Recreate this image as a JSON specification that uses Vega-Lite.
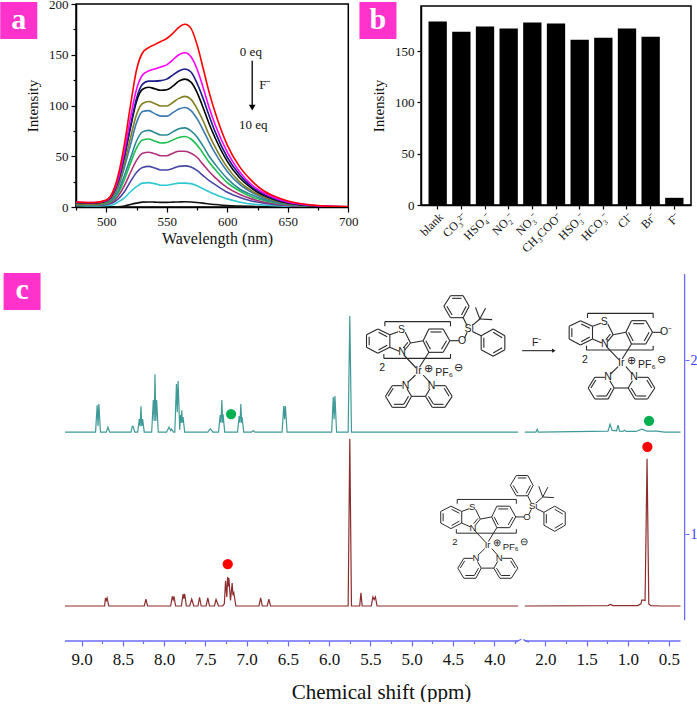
{"$schema":"https://vega.github.io/schema/vega-lite/v6.json","padding":{"left":-1,"top":-3,"right":0,"bottom":0},"background":"white","bounds":"flush","spacing":270,"resolve":{"scale":{"color":"independent"}},
"config":{"font":"Liberation Serif","axis":{"labelFont":"Liberation Serif","titleFont":"Liberation Serif","labelColor":"#111","titleColor":"#111","titleFontWeight":"normal","grid":false,"domainColor":"#000","tickColor":"#000"}},
"datasets":{
"curves":[
{"w":475,"s0":5,"s1":5,"s2":4.5,"s3":4.5,"s4":3,"s5":3,"s6":2.5,"s7":2.5,"s8":2,"s9":2,"s10":1.5,"s11":0},
{"w":490,"s0":4.5,"s1":4.5,"s2":4,"s3":4,"s4":2.8,"s5":2.8,"s6":2.3,"s7":2.2,"s8":1.8,"s9":1.6,"s10":1,"s11":0},
{"w":500,"s0":7,"s1":6.5,"s2":6,"s3":6,"s4":5,"s5":5,"s6":4,"s7":3.5,"s8":3,"s9":2.5,"s10":1.5,"s11":0},
{"w":505,"s0":14,"s1":13,"s2":12,"s3":12,"s4":10,"s5":9,"s6":7.5,"s7":6.5,"s8":5,"s9":4,"s10":2,"s11":0},
{"w":510,"s0":32,"s1":28,"s2":26,"s3":26,"s4":22,"s5":20,"s6":16,"s7":14,"s8":11,"s9":8,"s10":5,"s11":0.2},
{"w":515,"s0":62,"s1":55,"s2":50,"s3":50,"s4":43,"s5":39,"s6":31,"s7":27,"s8":21,"s9":15,"s10":9,"s11":1},
{"w":520,"s0":100,"s1":88,"s2":80,"s3":78,"s4":68,"s5":61,"s6":48,"s7":43,"s8":34,"s9":25,"s10":15,"s11":2.5},
{"w":525,"s0":135,"s1":116,"s2":107,"s3":104,"s4":91,"s5":83,"s6":65,"s7":58,"s8":46,"s9":34,"s10":20,"s11":3.8},
{"w":530,"s0":152,"s1":130,"s2":121,"s3":116,"s4":102,"s5":94,"s6":74,"s7":66,"s8":53,"s9":39,"s10":23.5,"s11":4.8},
{"w":535,"s0":157,"s1":134,"s2":124,"s3":118,"s4":104,"s5":95,"s6":75.5,"s7":67,"s8":54,"s9":40,"s10":24,"s11":5},
{"w":540,"s0":160,"s1":136,"s2":124,"s3":116.5,"s4":102,"s5":92,"s6":73.5,"s7":65,"s8":52.5,"s9":38.5,"s10":23,"s11":4.8},
{"w":545,"s0":163,"s1":138,"s2":124.5,"s3":115,"s4":99.5,"s5":89.5,"s6":71,"s7":63,"s8":50.5,"s9":36.5,"s10":21.5,"s11":4.6},
{"w":550,"s0":166,"s1":140,"s2":126,"s3":115.5,"s4":99.5,"s5":89.5,"s6":71,"s7":63.5,"s8":50.5,"s9":36.5,"s10":21.5,"s11":4.6},
{"w":555,"s0":171,"s1":145,"s2":130,"s3":119,"s4":103,"s5":93,"s6":74,"s7":66,"s8":53,"s9":38,"s10":22.5,"s11":4.8},
{"w":560,"s0":177,"s1":150,"s2":134,"s3":124,"s4":107,"s5":96.5,"s6":77,"s7":68.5,"s8":55,"s9":40,"s10":23.5,"s11":5},
{"w":565,"s0":180,"s1":152,"s2":136,"s3":126,"s4":109,"s5":98,"s6":78,"s7":69.5,"s8":55,"s9":40.5,"s10":23.5,"s11":5.2},
{"w":570,"s0":176,"s1":148,"s2":133,"s3":123,"s4":106,"s5":95,"s6":75,"s7":67,"s8":53,"s9":39.5,"s10":23,"s11":5},
{"w":575,"s0":160,"s1":136,"s2":122,"s3":113,"s4":97,"s5":87,"s6":69,"s7":61,"s8":49,"s9":36,"s10":21,"s11":4.5},
{"w":580,"s0":137,"s1":118,"s2":107,"s3":98,"s4":85,"s5":76,"s6":60,"s7":53,"s8":42,"s9":31,"s10":18,"s11":3.8},
{"w":585,"s0":113,"s1":98,"s2":90,"s3":82,"s4":71,"s5":64,"s6":50,"s7":44,"s8":35,"s9":26,"s10":15,"s11":3},
{"w":590,"s0":93,"s1":81,"s2":74,"s3":68,"s4":59,"s5":53,"s6":42,"s7":37,"s8":29,"s9":22,"s10":12.5,"s11":2.4},
{"w":600,"s0":61,"s1":54,"s2":49,"s3":45,"s4":39,"s5":35,"s6":28,"s7":24,"s8":19,"s9":14.5,"s10":8,"s11":1.4},
{"w":610,"s0":40,"s1":35,"s2":32,"s3":29,"s4":25,"s5":22.5,"s6":18,"s7":16,"s8":12.5,"s9":9.5,"s10":5,"s11":0.9},
{"w":620,"s0":26,"s1":22,"s2":20,"s3":18.5,"s4":16,"s5":14.5,"s6":12,"s7":10,"s8":8,"s9":6,"s10":3,"s11":0.6},
{"w":630,"s0":16,"s1":14,"s2":12.5,"s3":11.5,"s4":10,"s5":9,"s6":7.5,"s7":6.5,"s8":5,"s9":3.8,"s10":2,"s11":0.4},
{"w":640,"s0":10,"s1":8.5,"s2":7.5,"s3":7,"s4":6,"s5":5.5,"s6":4.5,"s7":4,"s8":3,"s9":2.3,"s10":1.2,"s11":0.2},
{"w":650,"s0":6,"s1":5,"s2":4.5,"s3":4,"s4":3.5,"s5":3.2,"s6":2.7,"s7":2.4,"s8":1.8,"s9":1.4,"s10":0.7,"s11":0.1},
{"w":660,"s0":3.5,"s1":3,"s2":2.5,"s3":2.3,"s4":2,"s5":1.8,"s6":1.5,"s7":1.3,"s8":1,"s9":0.8,"s10":0.4,"s11":0},
{"w":680,"s0":1,"s1":0.9,"s2":0.8,"s3":0.7,"s4":0.6,"s5":0.6,"s6":0.5,"s7":0.4,"s8":0.3,"s9":0.3,"s10":0.1,"s11":0},
{"w":700,"s0":0.4,"s1":0.3,"s2":0.3,"s3":0.3,"s4":0.2,"s5":0.2,"s6":0.2,"s7":0.1,"s8":0.1,"s9":0.1,"s10":0,"s11":0}],
"bars":[{"ion":"blank","i":179},{"ion":"CO₃²⁻","i":169},{"ion":"HSO₄⁻","i":174},{"ion":"NO₂⁻","i":172},{"ion":"NO₃⁻","i":178},{"ion":"CH₃COO⁻","i":177},{"ion":"HSO₃⁻","i":161},{"ion":"HCO₃⁻","i":163},{"ion":"Cl⁻","i":172},{"ion":"Br⁻","i":164},{"ion":"F⁻","i":7}],
"nmr":[
{"p":9.2,"v":1.586,"sp":"t","seg":1},{"p":8.83,"v":1.586,"sp":"t","seg":1},{"p":8.81,"v":1.741,"sp":"t","seg":1},{"p":8.8,"v":1.62,"sp":"t","seg":1},{"p":8.79,"v":1.747,"sp":"t","seg":1},{"p":8.77,"v":1.586,"sp":"t","seg":1},
{"p":8.7,"v":1.586,"sp":"t","seg":1},{"p":8.68,"v":1.615,"sp":"t","seg":1},{"p":8.66,"v":1.586,"sp":"t","seg":1},
{"p":8.4,"v":1.586,"sp":"t","seg":1},{"p":8.385,"v":1.62,"sp":"t","seg":1},{"p":8.375,"v":1.62,"sp":"t","seg":1},{"p":8.355,"v":1.586,"sp":"t","seg":1},
{"p":8.32,"v":1.586,"sp":"t","seg":1},{"p":8.3,"v":1.661,"sp":"t","seg":1},{"p":8.29,"v":1.62,"sp":"t","seg":1},{"p":8.28,"v":1.735,"sp":"t","seg":1},{"p":8.27,"v":1.62,"sp":"t","seg":1},{"p":8.26,"v":1.661,"sp":"t","seg":1},{"p":8.24,"v":1.586,"sp":"t","seg":1},
{"p":8.15,"v":1.586,"sp":"t","seg":1},{"p":8.13,"v":1.77,"sp":"t","seg":1},{"p":8.12,"v":1.65,"sp":"t","seg":1},{"p":8.11,"v":1.919,"sp":"t","seg":1},{"p":8.1,"v":1.65,"sp":"t","seg":1},{"p":8.09,"v":1.77,"sp":"t","seg":1},{"p":8.07,"v":1.586,"sp":"t","seg":1},
{"p":7.97,"v":1.586,"sp":"t","seg":1},{"p":7.94,"v":1.615,"sp":"t","seg":1},{"p":7.92,"v":1.595,"sp":"t","seg":1},{"p":7.91,"v":1.603,"sp":"t","seg":1},{"p":7.885,"v":1.586,"sp":"t","seg":1},
{"p":7.87,"v":1.586,"sp":"t","seg":1},{"p":7.85,"v":1.862,"sp":"t","seg":1},{"p":7.84,"v":1.7,"sp":"t","seg":1},{"p":7.83,"v":1.879,"sp":"t","seg":1},{"p":7.81,"v":1.6,"sp":"t","seg":1},{"p":7.8,"v":1.684,"sp":"t","seg":1},{"p":7.795,"v":1.64,"sp":"t","seg":1},{"p":7.785,"v":1.712,"sp":"t","seg":1},{"p":7.78,"v":1.64,"sp":"t","seg":1},{"p":7.77,"v":1.672,"sp":"t","seg":1},{"p":7.75,"v":1.586,"sp":"t","seg":1},
{"p":7.47,"v":1.586,"sp":"t","seg":1},{"p":7.44,"v":1.606,"sp":"t","seg":1},{"p":7.41,"v":1.586,"sp":"t","seg":1},
{"p":7.34,"v":1.586,"sp":"t","seg":1},{"p":7.32,"v":1.684,"sp":"t","seg":1},{"p":7.31,"v":1.64,"sp":"t","seg":1},{"p":7.3,"v":1.77,"sp":"t","seg":1},{"p":7.29,"v":1.64,"sp":"t","seg":1},{"p":7.285,"v":1.689,"sp":"t","seg":1},{"p":7.265,"v":1.586,"sp":"t","seg":1},
{"p":7.11,"v":1.586,"sp":"t","seg":1},{"p":7.09,"v":1.678,"sp":"t","seg":1},{"p":7.08,"v":1.64,"sp":"t","seg":1},{"p":7.07,"v":1.747,"sp":"t","seg":1},{"p":7.06,"v":1.64,"sp":"t","seg":1},{"p":7.055,"v":1.672,"sp":"t","seg":1},{"p":7.035,"v":1.586,"sp":"t","seg":1},
{"p":6.94,"v":1.586,"sp":"t","seg":1},{"p":6.92,"v":1.595,"sp":"t","seg":1},{"p":6.9,"v":1.586,"sp":"t","seg":1},
{"p":6.57,"v":1.586,"sp":"t","seg":1},{"p":6.55,"v":1.736,"sp":"t","seg":1},{"p":6.54,"v":1.66,"sp":"t","seg":1},{"p":6.53,"v":1.736,"sp":"t","seg":1},{"p":6.51,"v":1.586,"sp":"t","seg":1},
{"p":5.97,"v":1.586,"sp":"t","seg":1},{"p":5.95,"v":1.787,"sp":"t","seg":1},{"p":5.94,"v":1.66,"sp":"t","seg":1},{"p":5.93,"v":1.793,"sp":"t","seg":1},{"p":5.91,"v":1.586,"sp":"t","seg":1},
{"p":5.77,"v":1.586,"sp":"t","seg":1},{"p":5.75,"v":2.253,"sp":"t","seg":1},{"p":5.73,"v":1.586,"sp":"t","seg":1},{"p":3.71,"v":1.586,"sp":"t","seg":1},
{"p":2.25,"v":1.586,"sp":"t","seg":2},{"p":2.115,"v":1.586,"sp":"t","seg":2},{"p":2.1,"v":1.603,"sp":"t","seg":2},{"p":2.085,"v":1.586,"sp":"t","seg":2},{"p":1.24,"v":1.592,"sp":"t","seg":2},{"p":1.215,"v":1.632,"sp":"t","seg":2},{"p":1.19,"v":1.596,"sp":"t","seg":2},{"p":1.135,"v":1.594,"sp":"t","seg":2},{"p":1.118,"v":1.626,"sp":"t","seg":2},{"p":1.1,"v":1.592,"sp":"t","seg":2},{"p":1.06,"v":1.59,"sp":"t","seg":2},{"p":1.04,"v":1.597,"sp":"t","seg":2},{"p":1.02,"v":1.59,"sp":"t","seg":2},{"p":0.9,"v":1.59,"sp":"t","seg":2},{"p":0.83,"v":1.603,"sp":"t","seg":2},{"p":0.77,"v":1.592,"sp":"t","seg":2},{"p":0.65,"v":1.592,"sp":"t","seg":2},{"p":0.55,"v":1.586,"sp":"t","seg":2},{"p":0.36,"v":1.586,"sp":"t","seg":2},
{"p":9.2,"v":0.588,"sp":"r","seg":1},{"p":8.72,"v":0.588,"sp":"r","seg":1},{"p":8.71,"v":0.634,"sp":"r","seg":1},{"p":8.7,"v":0.62,"sp":"r","seg":1},{"p":8.69,"v":0.634,"sp":"r","seg":1},{"p":8.67,"v":0.588,"sp":"r","seg":1},
{"p":8.24,"v":0.588,"sp":"r","seg":1},{"p":8.22,"v":0.628,"sp":"r","seg":1},{"p":8.2,"v":0.588,"sp":"r","seg":1},
{"p":7.92,"v":0.588,"sp":"r","seg":1},{"p":7.9,"v":0.643,"sp":"r","seg":1},{"p":7.89,"v":0.625,"sp":"r","seg":1},{"p":7.88,"v":0.643,"sp":"r","seg":1},{"p":7.86,"v":0.588,"sp":"r","seg":1},
{"p":7.79,"v":0.588,"sp":"r","seg":1},{"p":7.77,"v":0.657,"sp":"r","seg":1},{"p":7.76,"v":0.63,"sp":"r","seg":1},{"p":7.75,"v":0.657,"sp":"r","seg":1},{"p":7.73,"v":0.588,"sp":"r","seg":1},
{"p":7.69,"v":0.588,"sp":"r","seg":1},{"p":7.665,"v":0.628,"sp":"r","seg":1},{"p":7.64,"v":0.588,"sp":"r","seg":1},
{"p":7.59,"v":0.588,"sp":"r","seg":1},{"p":7.57,"v":0.637,"sp":"r","seg":1},{"p":7.55,"v":0.588,"sp":"r","seg":1},
{"p":7.49,"v":0.588,"sp":"r","seg":1},{"p":7.47,"v":0.634,"sp":"r","seg":1},{"p":7.45,"v":0.588,"sp":"r","seg":1},
{"p":7.39,"v":0.588,"sp":"r","seg":1},{"p":7.37,"v":0.625,"sp":"r","seg":1},{"p":7.34,"v":0.588,"sp":"r","seg":1},
{"p":7.29,"v":0.588,"sp":"r","seg":1},{"p":7.27,"v":0.6,"sp":"r","seg":1},{"p":7.255,"v":0.732,"sp":"r","seg":1},{"p":7.24,"v":0.64,"sp":"r","seg":1},{"p":7.23,"v":0.755,"sp":"r","seg":1},{"p":7.222,"v":0.7,"sp":"r","seg":1},{"p":7.215,"v":0.749,"sp":"r","seg":1},{"p":7.195,"v":0.62,"sp":"r","seg":1},{"p":7.175,"v":0.72,"sp":"r","seg":1},{"p":7.165,"v":0.65,"sp":"r","seg":1},{"p":7.155,"v":0.663,"sp":"r","seg":1},{"p":7.13,"v":0.588,"sp":"r","seg":1},
{"p":6.85,"v":0.588,"sp":"r","seg":1},{"p":6.83,"v":0.634,"sp":"r","seg":1},{"p":6.81,"v":0.588,"sp":"r","seg":1},
{"p":6.75,"v":0.588,"sp":"r","seg":1},{"p":6.73,"v":0.628,"sp":"r","seg":1},{"p":6.71,"v":0.588,"sp":"r","seg":1},
{"p":5.77,"v":0.588,"sp":"r","seg":1},{"p":5.75,"v":1.548,"sp":"r","seg":1},{"p":5.73,"v":0.588,"sp":"r","seg":1},
{"p":5.63,"v":0.588,"sp":"r","seg":1},{"p":5.615,"v":0.663,"sp":"r","seg":1},{"p":5.6,"v":0.588,"sp":"r","seg":1},
{"p":5.49,"v":0.588,"sp":"r","seg":1},{"p":5.47,"v":0.64,"sp":"r","seg":1},{"p":5.455,"v":0.625,"sp":"r","seg":1},{"p":5.44,"v":0.64,"sp":"r","seg":1},{"p":5.42,"v":0.588,"sp":"r","seg":1},{"p":3.71,"v":0.588,"sp":"r","seg":1},
{"p":2.25,"v":0.588,"sp":"r","seg":2},{"p":1.24,"v":0.59,"sp":"r","seg":2},{"p":1.21,"v":0.597,"sp":"r","seg":2},{"p":1.18,"v":0.59,"sp":"r","seg":2},{"p":0.88,"v":0.59,"sp":"r","seg":2},{"p":0.84,"v":0.6,"sp":"r","seg":2},{"p":0.83,"v":0.622,"sp":"r","seg":2},{"p":0.81,"v":0.622,"sp":"r","seg":2},{"p":0.79,"v":0.62,"sp":"r","seg":2},{"p":0.766,"v":1.433,"sp":"r","seg":2},{"p":0.745,"v":0.6,"sp":"r","seg":2},{"p":0.72,"v":0.59,"sp":"r","seg":2},{"p":0.6,"v":0.588,"sp":"r","seg":2},{"p":0.36,"v":0.588,"sp":"r","seg":2}],
"bonds":[
{"part":"core","x1":82,"y1":180,"x2":118,"y2":197},{"part":"core","x1":118,"y1":197,"x2":118,"y2":235},{"part":"core","x1":118,"y1":235,"x2":82,"y2":253},{"part":"core","x1":82,"y1":253,"x2":48,"y2":235},{"part":"core","x1":48,"y1":235,"x2":48,"y2":197},{"part":"core","x1":48,"y1":197,"x2":82,"y2":180},
{"part":"core","x1":56,"y1":203,"x2":56,"y2":229},{"part":"core","x1":84,"y1":190,"x2":110,"y2":203},{"part":"core","x1":84,"y1":243,"x2":110,"y2":229},
{"part":"core","x1":118,"y1":197,"x2":143,"y2":188},{"part":"core","x1":164,"y1":190,"x2":180,"y2":222},{"part":"core","x1":180,"y1":222,"x2":163,"y2":243},{"part":"core","x1":118,"y1":235,"x2":146,"y2":247},{"part":"core","x1":172,"y1":220,"x2":158,"y2":237},
{"part":"core","x1":180,"y1":222,"x2":218,"y2":215},
{"part":"core","x1":235,"y1":180,"x2":278,"y2":180},{"part":"core","x1":278,"y1":180,"x2":298,"y2":215},{"part":"core","x1":298,"y1":215,"x2":278,"y2":250},{"part":"core","x1":278,"y1":250,"x2":235,"y2":250},{"part":"core","x1":235,"y1":250,"x2":218,"y2":215},{"part":"core","x1":218,"y1":215,"x2":235,"y2":180},
{"part":"core","x1":240,"y1":189,"x2":273,"y2":189},{"part":"core","x1":288,"y1":215,"x2":273,"y2":241},{"part":"core","x1":240,"y1":241,"x2":226,"y2":215},
{"part":"core","x1":298,"y1":215,"x2":325,"y2":215},{"part":"core","x1":160,"y1":258,"x2":197,"y2":297},{"part":"core","x1":235,"y1":250,"x2":207,"y2":295},
{"part":"core","x1":103,"y1":172,"x2":103,"y2":158},{"part":"core","x1":103,"y1":158,"x2":300,"y2":158},{"part":"core","x1":300,"y1":158,"x2":300,"y2":172},{"part":"core","x1":100,"y1":255,"x2":100,"y2":268},{"part":"core","x1":100,"y1":268,"x2":300,"y2":268},{"part":"core","x1":300,"y1":268,"x2":300,"y2":255},
{"part":"core","x1":195,"y1":318,"x2":172,"y2":340},{"part":"core","x1":218,"y1":318,"x2":238,"y2":340},
{"part":"core","x1":170,"y1":360,"x2":183,"y2":382},{"part":"core","x1":183,"y1":382,"x2":165,"y2":415},{"part":"core","x1":165,"y1":415,"x2":125,"y2":415},{"part":"core","x1":125,"y1":415,"x2":105,"y2":382},{"part":"core","x1":105,"y1":382,"x2":125,"y2":350},{"part":"core","x1":125,"y1":350,"x2":155,"y2":350},
{"part":"core","x1":174,"y1":382,"x2":160,"y2":406},{"part":"core","x1":130,"y1":406,"x2":160,"y2":406},{"part":"core","x1":113,"y1":382,"x2":128,"y2":358},
{"part":"core","x1":238,"y1":360,"x2":225,"y2":382},{"part":"core","x1":225,"y1":382,"x2":245,"y2":415},{"part":"core","x1":245,"y1":415,"x2":283,"y2":415},{"part":"core","x1":283,"y1":415,"x2":305,"y2":382},{"part":"core","x1":305,"y1":382,"x2":285,"y2":350},{"part":"core","x1":285,"y1":350,"x2":253,"y2":350},
{"part":"core","x1":234,"y1":382,"x2":249,"y2":406},{"part":"core","x1":279,"y1":406,"x2":250,"y2":406},{"part":"core","x1":296,"y1":382,"x2":281,"y2":358},
{"part":"core","x1":183,"y1":382,"x2":225,"y2":382},
{"part":"tail","x1":342,"y1":207,"x2":350,"y2":190},{"part":"tail","x1":350,"y1":170,"x2":338,"y2":146},
{"part":"tail","x1":300,"y1":80,"x2":338,"y2":80},{"part":"tail","x1":338,"y1":80,"x2":356,"y2":112},{"part":"tail","x1":356,"y1":112,"x2":338,"y2":146},{"part":"tail","x1":338,"y1":146,"x2":300,"y2":146},{"part":"tail","x1":300,"y1":146,"x2":280,"y2":112},{"part":"tail","x1":280,"y1":112,"x2":300,"y2":80},
{"part":"tail","x1":305,"y1":88,"x2":333,"y2":88},{"part":"tail","x1":347,"y1":112,"x2":333,"y2":138},{"part":"tail","x1":305,"y1":138,"x2":289,"y2":112},
{"part":"tail","x1":365,"y1":170,"x2":388,"y2":150},{"part":"tail","x1":388,"y1":150,"x2":375,"y2":115},{"part":"tail","x1":388,"y1":150,"x2":405,"y2":118},{"part":"tail","x1":388,"y1":150,"x2":425,"y2":152},
{"part":"tail","x1":367,"y1":188,"x2":392,"y2":200},
{"part":"tail","x1":428,"y1":180,"x2":463,"y2":200},{"part":"tail","x1":463,"y1":200,"x2":463,"y2":242},{"part":"tail","x1":463,"y1":242,"x2":428,"y2":262},{"part":"tail","x1":428,"y1":262,"x2":392,"y2":242},{"part":"tail","x1":392,"y1":242,"x2":392,"y2":200},{"part":"tail","x1":392,"y1":200,"x2":428,"y2":180},
{"part":"tail","x1":428,"y1":190,"x2":455,"y2":206},{"part":"tail","x1":455,"y1":236,"x2":428,"y2":252},{"part":"tail","x1":400,"y1":236,"x2":400,"y2":206},
{"part":"arrow","x1":515,"y1":245,"x2":605,"y2":245}],
"atoms":[
{"part":"core","t":"S","x":153,"y":183},{"part":"core","t":"N","x":155,"y":250},{"part":"core","t":"Ir","x":204,"y":306},{"part":"core","t":"N","x":165,"y":350},{"part":"core","t":"N","x":243,"y":350},{"part":"core","t":"2","x":95,"y":297},{"part":"core","t":"⊕","x":234,"y":300},{"part":"core","t":"PF₆","x":281,"y":312},{"part":"core","t":"⊖","x":324,"y":297},
{"part":"tail","t":"O","x":335,"y":216},{"part":"tail","t":"Si","x":356,"y":180},
{"part":"oxide","t":"O⁻","x":339,"y":215},
{"part":"arrow","t":"F⁻","x":560,"y":222}]
},
"vconcat":[
{"bounds":"flush","spacing":10,"hconcat":[
{"width":1,"height":203,"view":{"stroke":null},"data":{"values":[{"a":0}]},"mark":{"type":"point","opacity":0},"encoding":{}},
{"bounds":"flush","spacing":72,"center":true,"hconcat":[
{"width":272.3,"height":203,"view":{"stroke":"#000","strokeWidth":1.5},"resolve":{"scale":{"x":"independent","y":"independent"}},"layer":[
{"data":{"name":"curves"},"transform":[{"fold":["s11","s10","s9","s8","s7","s6","s5","s4","s3","s2","s1","s0"],"as":["curve","I"]}],
"mark":{"type":"line","interpolate":"monotone","strokeWidth":1.6,"clip":true},
"encoding":{"x":{"field":"w","type":"quantitative","scale":{"domain":[475,700],"nice":false,"zero":false},
"axis":{"title":"Wavelength (nm)","titleFontSize":16,"titleX":141,"titlePadding":2,"labelFontSize":13,"labelPadding":3,"labelFlush":false,"labelBound":false,"domainWidth":1.5,"tickWidth":1.2,"values":[475,500,525,550,575,600,625,650,675,700],"tickSize":{"condition":{"test":"datum.value % 50 == 0","value":5},"value":3},"labelExpr":"datum.value % 50 == 0 ? format(datum.value, 'd') : ''","labelOverlap":false}},
"y":{"field":"I","type":"quantitative","scale":{"domain":[0,200],"nice":false},
"axis":{"title":"Intensity","titleFontSize":15,"titlePadding":8,"labelFontSize":13,"labelPadding":3,"domainWidth":1.5,"tickWidth":1.2,"values":[0,25,50,75,100,125,150,175,200],"tickSize":{"condition":{"test":"datum.value % 50 == 0","value":5},"value":3},"labelExpr":"datum.value % 50 == 0 ? format(datum.value, 'd') : ''","labelOverlap":false}},
"color":{"field":"curve","type":"nominal","legend":null,"scale":{"domain":["s0","s1","s2","s3","s4","s5","s6","s7","s8","s9","s10","s11"],"range":["#ff0000","#ff00ff","#1c1c8c","#000000","#808020","#3a78b0","#2a8a94","#20c050","#b0307a","#4646a6","#30c8d0","#111111"]}}}},
{"data":{"values":[{"x":619.5,"y":153,"t":"0 eq"},{"x":631,"y":120,"t":"F⁻"},{"x":621.5,"y":81,"t":"10 eq"}]},"mark":{"type":"text","font":"Liberation Serif","fontSize":13,"color":"#111"},"encoding":{"x":{"field":"x","type":"quantitative","axis":null,"scale":{"domain":[475,700],"nice":false,"zero":false}},"y":{"field":"y","type":"quantitative","axis":null,"scale":{"domain":[0,200],"nice":false}},"text":{"field":"t"}}},
{"data":{"values":[{"x":620.6,"y":144,"y2":97}]},"mark":{"type":"rule","color":"#000","strokeWidth":1.3},"encoding":{"x":{"field":"x","type":"quantitative","axis":null,"scale":{"domain":[475,700],"nice":false,"zero":false}},"y":{"field":"y","type":"quantitative","axis":null,"scale":{"domain":[0,200],"nice":false}},"y2":{"field":"y2"}}},
{"data":{"values":[{"x":620.6,"y":98}]},"mark":{"type":"point","shape":"triangle-down","filled":true,"opacity":1,"color":"#000","size":45},"encoding":{"x":{"field":"x","type":"quantitative","axis":null,"scale":{"domain":[475,700],"nice":false,"zero":false}},"y":{"field":"y","type":"quantitative","axis":null,"scale":{"domain":[0,200],"nice":false}}}},
{"data":{"values":[{"x":412.4,"x2":443,"y":202,"y2":165.5},{"x":709.2,"x2":739.8,"y":202,"y2":165.5}]},"mark":{"type":"rect","color":"#ff33cc","clip":false},"encoding":{"x":{"field":"x","type":"quantitative","axis":null,"scale":{"domain":[475,700],"nice":false,"zero":false}},"x2":{"field":"x2"},"y":{"field":"y","type":"quantitative","axis":null,"scale":{"domain":[0,200],"nice":false}},"y2":{"field":"y2"}}},
{"data":{"values":[{"x":427.7,"y":184,"t":"a"},{"x":724.5,"y":184,"t":"b"}]},"mark":{"type":"text","font":"Liberation Serif","fontWeight":"bold","fontSize":30,"color":"#fff","clip":false},"encoding":{"x":{"field":"x","type":"quantitative","axis":null,"scale":{"domain":[475,700],"nice":false,"zero":false}},"y":{"field":"y","type":"quantitative","axis":null,"scale":{"domain":[0,200],"nice":false}},"text":{"field":"t"}}}
]},
{"width":270,"height":199,"view":{"stroke":"#000","strokeWidth":1.5},"data":{"name":"bars"},"mark":{"type":"bar","color":"#000"},
"encoding":{"x":{"field":"ion","type":"nominal","sort":null,"scale":{"paddingInner":0.226,"paddingOuter":0.318},"axis":{"title":null,"labelAngle":-45,"labelFontSize":12,"labelPadding":2,"tickSize":4,"domainWidth":1.5,"tickWidth":1.2}},
"y":{"field":"i","type":"quantitative","scale":{"domain":[0,194],"nice":false},"axis":{"title":"Intensity","titleFontSize":15,"titlePadding":8,"labelFontSize":13,"labelPadding":3,"values":[0,50,100,150],"tickSize":4,"domainWidth":1.5,"tickWidth":1.2}}}}
]}]},
{"width":620,"height":367,"view":{"stroke":null},"resolve":{"scale":{"x":"independent","y":"independent"}},"layer":[
{"data":{"name":"nmr"},"mark":{"type":"line","strokeWidth":1.2,"clip":false},
"encoding":{"x":{"field":"p","type":"quantitative","scale":{"domain":[9.2,3.71,2.25,0.36],"range":[0,453.2,459.8,615.5],"nice":false,"zero":false},
"axis":{"title":"Chemical shift (ppm)","titleFontSize":21,"titleX":316,"titlePadding":14,"labelFontSize":17,"labelPadding":5,"domain":false,"tickColor":"#6a6aff","tickWidth":1.2,"values":[9,8.75,8.5,8.25,8,7.75,7.5,7.25,7,6.75,6.5,6.25,6,5.75,5.5,5.25,5,4.75,4.5,4.25,4,3.75,2,1.75,1.5,1.25,1,0.75,0.5],"tickSize":{"condition":{"test":"datum.value * 2 % 1 == 0","value":5},"value":2.5},"labelExpr":"datum.value * 2 % 1 == 0 ? format(datum.value, '.1f') : ''","labelOverlap":false}},
"y":{"field":"v","type":"quantitative","scale":{"domain":[0.387,2.494],"nice":false,"zero":false},
"axis":{"title":null,"orient":"right","domain":false,"values":[1,2],"tickSize":4,"tickColor":"#6a6aff","labelColor":"#3a3aff","labelFontSize":14,"labelPadding":1,"format":"d"}},
"color":{"field":"sp","type":"nominal","legend":null,"scale":{"domain":["t","r"],"range":["#3f9a97","#8c2c2c"]}},"detail":{"field":"seg"}}},
{"data":{"values":[{"p1":9.2,"p2":3.71,"y1":0.387,"y2":0.387},{"p1":2.25,"p2":0.36,"y1":0.387,"y2":0.387},{"p1":0.31,"p2":0.31,"y1":0.506,"y2":2.494},{"p1":3.75,"p2":3.0,"y1":0.379,"y2":0.397},{"p1":2.6,"p2":2.2,"y1":0.395,"y2":0.381}]},"mark":{"type":"rule","color":"#6a6aff","strokeWidth":1.3,"clip":false},"encoding":{"x":{"field":"p1","type":"quantitative","axis":null,"scale":{"domain":[9.2,3.71,2.25,0.36],"range":[0,453.2,459.8,615.5],"nice":false,"zero":false}},"x2":{"field":"p2"},"y":{"field":"y1","type":"quantitative","axis":null,"scale":{"domain":[0.387,2.494],"nice":false,"zero":false}},"y2":{"field":"y2"}}},
{"data":{"values":[{"p":7.188,"v":1.69,"c":"g"},{"p":0.742,"v":1.651,"c":"g"},{"p":7.229,"v":0.828,"c":"e"},{"p":0.762,"v":1.502,"c":"e"}]},"mark":{"type":"point","filled":true,"opacity":1,"size":105,"clip":false},"encoding":{"x":{"field":"p","type":"quantitative","axis":null,"scale":{"domain":[9.2,3.71,2.25,0.36],"range":[0,453.2,459.8,615.5],"nice":false,"zero":false}},"y":{"field":"v","type":"quantitative","axis":null,"scale":{"domain":[0.387,2.494],"nice":false,"zero":false}},"fill":{"field":"c","type":"nominal","legend":null,"scale":{"domain":["g","e"],"range":["#00b050","#ff0000"]}}}},
{"data":{"values":[{"a":9.944,"b":9.496,"c":2.5,"d":2.287}]},"mark":{"type":"rect","color":"#ff33cc","clip":false},"encoding":{"x":{"field":"a","type":"quantitative","axis":null,"scale":{"domain":[9.2,3.71,2.25,0.36],"range":[0,453.2,459.8,615.5],"nice":false,"zero":false}},"x2":{"field":"b"},"y":{"field":"c","type":"quantitative","axis":null,"scale":{"domain":[0.387,2.494],"nice":false,"zero":false}},"y2":{"field":"d"}}},
{"data":{"values":[{"p":9.72,"v":2.4,"t":"c"}]},"mark":{"type":"text","font":"Liberation Serif","fontWeight":"bold","fontSize":30,"color":"#fff","clip":false},"encoding":{"x":{"field":"p","type":"quantitative","axis":null,"scale":{"domain":[9.2,3.71,2.25,0.36],"range":[0,453.2,459.8,615.5],"nice":false,"zero":false}},"y":{"field":"v","type":"quantitative","axis":null,"scale":{"domain":[0.387,2.494],"nice":false,"zero":false}},"text":{"field":"t"}}},
{"data":{"name":"bonds"},"mark":{"type":"rule","color":"#2a2a2a","strokeWidth":1.1},"encoding":{"x":{"field":"x1","type":"quantitative","axis":null,"scale":{"domain":[-856.5,1003.5],"range":[0,620],"nice":false,"zero":false}},"x2":{"field":"x2"},"y":{"field":"y1","type":"quantitative","axis":null,"scale":{"domain":[15,1116],"range":[0,367],"nice":false,"zero":false}},"y2":{"field":"y2"}}},
{"data":{"name":"atoms"},"transform":[{"filter":"datum.part != 'oxide'"}],"mark":{"type":"text","font":"Liberation Sans","fontSize":10.5,"color":"#222"},"encoding":{"x":{"field":"x","type":"quantitative","axis":null,"scale":{"domain":[-856.5,1003.5],"range":[0,620],"nice":false,"zero":false}},"y":{"field":"y","type":"quantitative","axis":null,"scale":{"domain":[15,1116],"range":[0,367],"nice":false,"zero":false}},"text":{"field":"t"}}},
{"data":{"values":[{"x":610,"y":245}]},"mark":{"type":"point","shape":"triangle-right","filled":true,"opacity":1,"color":"#222","size":18},"encoding":{"x":{"field":"x","type":"quantitative","axis":null,"scale":{"domain":[-856.5,1003.5],"range":[0,620],"nice":false,"zero":false}},"y":{"field":"y","type":"quantitative","axis":null,"scale":{"domain":[15,1116],"range":[0,367],"nice":false,"zero":false}}}},
{"data":{"name":"bonds"},"transform":[{"filter":"datum.part == 'core'"}],"mark":{"type":"rule","color":"#2a2a2a","strokeWidth":1.1},"encoding":{"x":{"field":"x1","type":"quantitative","axis":null,"scale":{"domain":[-1464.5,395.5],"range":[0,620],"nice":false,"zero":false}},"x2":{"field":"x2"},"y":{"field":"y1","type":"quantitative","axis":null,"scale":{"domain":[40,1141],"range":[0,367],"nice":false,"zero":false}},"y2":{"field":"y2"}}},
{"data":{"name":"atoms"},"transform":[{"filter":"datum.part == 'core' || datum.part == 'oxide'"}],"mark":{"type":"text","font":"Liberation Sans","fontSize":10.5,"color":"#222"},"encoding":{"x":{"field":"x","type":"quantitative","axis":null,"scale":{"domain":[-1464.5,395.5],"range":[0,620],"nice":false,"zero":false}},"y":{"field":"y","type":"quantitative","axis":null,"scale":{"domain":[40,1141],"range":[0,367],"nice":false,"zero":false}},"text":{"field":"t"}}},
{"data":{"name":"bonds"},"transform":[{"filter":"datum.part == 'core' || datum.part == 'tail'"}],"mark":{"type":"rule","color":"#2a2a2a","strokeWidth":1},"encoding":{"x":{"field":"x1","type":"quantitative","axis":null,"scale":{"domain":[-1204.4,862.2],"range":[0,620],"nice":false,"zero":false}},"x2":{"field":"x2"},"y":{"field":"y1","type":"quantitative","axis":null,"scale":{"domain":[-577.2,619.6],"range":[0,367],"nice":false,"zero":false}},"y2":{"field":"y2"}}},
{"data":{"name":"atoms"},"transform":[{"filter":"datum.part == 'core' || datum.part == 'tail'"}],"mark":{"type":"text","font":"Liberation Sans","fontSize":9.5,"color":"#222"},"encoding":{"x":{"field":"x","type":"quantitative","axis":null,"scale":{"domain":[-1204.4,862.2],"range":[0,620],"nice":false,"zero":false}},"y":{"field":"y","type":"quantitative","axis":null,"scale":{"domain":[-577.2,619.6],"range":[0,367],"nice":false,"zero":false}},"text":{"field":"t"}}}
]}
]}
